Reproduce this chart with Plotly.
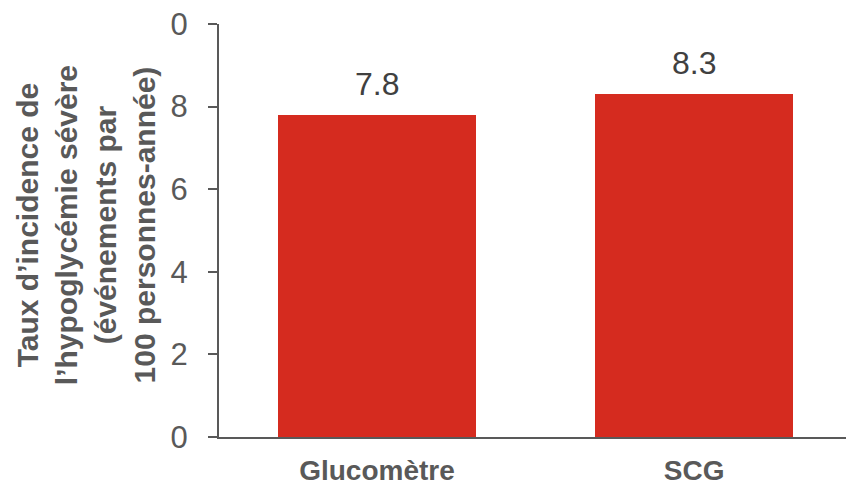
import plotly.graph_objects as go

# Severe hypoglycaemia incidence by monitoring method
categories = ["Glucomètre", "SCG"]
rates = [7.8, 8.3]
rate_labels = ["7.8", "8.3"]
y_tickvals = [0, 2, 4, 6, 8, 10]
y_ticktext = ["0", "2", "4", "6", "8", "0"]

axis_title = ("Taux d’incidence de<br>l’hypoglycémie sévère<br>"
              "(événements par<br>100 personnes-année)")

FONT = "Arial, Liberation Sans, sans-serif"
GREY = "#595959"
BAR_RED = "#D52B1F"

positions = list(range(len(categories)))

fig = go.Figure(
    go.Bar(
        x=positions,
        y=rates,
        width=0.625,
        marker=dict(color=BAR_RED, line=dict(width=0)),
        cliponaxis=False,
    )
)

# value labels floating above each bar
for xi, val, lab in zip(positions, rates, rate_labels):
    fig.add_annotation(
        x=xi,
        y=val,
        text=lab,
        showarrow=False,
        xanchor="center",
        yanchor="bottom",
        yshift=11,
        font=dict(family=FONT, size=32, color="#404040"),
    )

fig.update_layout(
    width=846,
    height=487,
    margin=dict(l=219, r=0, t=24, b=50, autoexpand=False),
    paper_bgcolor="white",
    plot_bgcolor="white",
    showlegend=False,
    bargap=0,
)

fig.update_xaxes(
    range=[-0.498, 1.479],
    tickmode="array",
    tickvals=positions,
    ticktext=categories,
    tickfont=dict(family=FONT, size=28, color=GREY, weight="bold"),
    showline=True,
    linecolor=GREY,
    linewidth=2,
    ticks="",
    showgrid=False,
    zeroline=False,
    automargin=False,
    ticklabelstandoff=7,
)

fig.update_yaxes(
    range=[0, 10],
    tickmode="array",
    tickvals=y_tickvals,
    ticktext=y_ticktext,
    tickfont=dict(family=FONT, size=31, color=GREY),
    showline=True,
    linecolor=GREY,
    linewidth=2,
    ticks="outside",
    ticklen=9,
    tickwidth=2,
    tickcolor=GREY,
    showgrid=False,
    zeroline=False,
    automargin=False,
    ticklabelstandoff=14,
)

fig.add_annotation(
    text=axis_title,
    xref="paper",
    yref="paper",
    x=(86 - 219) / 627,
    y=0.513,
    xanchor="center",
    yanchor="middle",
    textangle=-90,
    showarrow=False,
    align="center",
    font=dict(family=FONT, size=30, color=GREY, weight="bold"),
)

fig.write_html("out.html")
